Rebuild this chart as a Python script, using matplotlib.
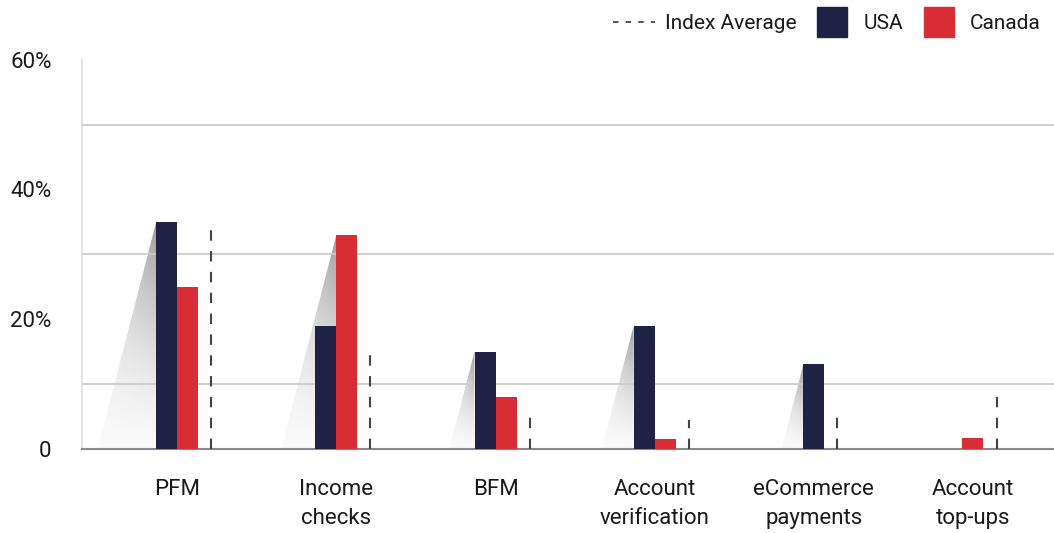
import numpy as np
import matplotlib
matplotlib.use("Agg")
import matplotlib.pyplot as plt
from matplotlib.lines import Line2D
from matplotlib.patches import Polygon

# data (percent)
categories = ["PFM", "Income\nchecks", "BFM", "Account\nverification",
              "eCommerce\npayments", "Account\ntop-ups"]
usa = [35, 19, 15, 19, 13, 0]
canada = [25, 33, 8, 1.5, 0, 1.7]
index_avg = [34, 15, 6, 4.5, 6.3, 8.8]

navy = "#1f2145"
red = "#d82d35"

plt.rcParams['font.family'] = ['Roboto', 'DejaVu Sans']

fig = plt.figure(figsize=(10.54, 5.33), dpi=100)
ax = fig.add_axes([0.078, 0.158, 0.922, 0.730])

bar_w = 0.132
gap = 0.082
x = np.arange(len(categories))

for i, xc in enumerate(x):
    vals = [(usa[i], navy), (canada[i], red)]
    vals = [v for v in vals if v[0] > 0]
    n = len(vals)
    left = xc - n * bar_w / 2
    lefts = []
    for j, (v, c) in enumerate(vals):
        bl = left + j * bar_w
        lefts.append(bl)
        ax.bar(bl, v, width=bar_w, align='edge', color=c, zorder=3, linewidth=0)
    # index average dashed line
    xl = left + n * bar_w + gap
    ax.plot([xl, xl], [0, index_avg[i]], color="#444444", lw=1.5,
            dashes=(5, 5), zorder=3)
    # soft shadow from the tallest bar
    k = int(np.argmax([v for v, _ in vals]))
    h = vals[k][0]
    sx = lefts[k]
    dx = h * 0.0105
    poly = Polygon([(sx, h), (sx - dx, 0), (sx, 0)], closed=True,
                   transform=ax.transData, facecolor='none', edgecolor='none')
    ax.add_patch(poly)
    yy, xx = np.mgrid[0:1:200j, 0:1:100j]
    alpha = 0.03 + 0.48 * yy ** 1.4 * (0.4 + 0.6 * xx)
    img = np.zeros((200, 100, 4))
    img[..., :3] = 0.25
    img[..., 3] = alpha
    im = ax.imshow(img, extent=[sx - dx, sx, 0, h], origin='lower',
                   aspect='auto', zorder=1, interpolation='bilinear')
    im.set_clip_path(poly)

ax.set_xlim(-0.597, 5.509)
ax.set_ylim(0, 60)

ax.set_yticks([0, 20, 40, 60])
ax.set_yticklabels(["0", "20%", "40%", "60%"])
ax.set_yticks(np.arange(10, 60, 10), minor=True)
ax.grid(which='minor', axis='y', color='#cccccc', lw=1.3, zorder=0)
ax.tick_params(axis='y', which='both', length=0, pad=22, labelsize=16,
               labelcolor='#1a1a1a')
ax.set_xticks(x)
ax.set_xticklabels(categories, linespacing=1.5)
ax.tick_params(axis='x', length=0, pad=22, labelsize=16, labelcolor='#1a1a1a')

for s in ['top', 'right']:
    ax.spines[s].set_visible(False)
ax.spines['left'].set_color('#dddddd')
ax.spines['left'].set_linewidth(1.2)
ax.spines['bottom'].set_color('#888888')
ax.spines['bottom'].set_linewidth(1.5)

handles = [
    Line2D([], [], color='#444444', lw=1.3, dashes=(3, 4)),
    Line2D([], [], color=navy, marker='s', markersize=21, lw=0),
    Line2D([], [], color=red, marker='s', markersize=21, lw=0),
]
fig.legend(handles, ["Index Average", "USA", "Canada"], loc='upper right',
           bbox_to_anchor=(1.005, 1.008), ncol=3, frameon=False, fontsize=15,
           handlelength=2.0, handletextpad=0.5, columnspacing=0.7,
           labelcolor='#1a1a1a')

fig.savefig("out.png", dpi=100, facecolor='white')
